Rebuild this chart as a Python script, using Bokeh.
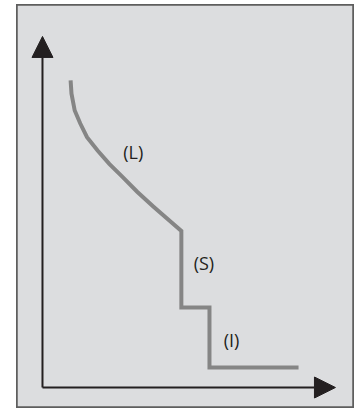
from bokeh.plotting import figure
from bokeh.layouts import row, column
from bokeh.models import Range1d, Arrow, NormalHead, Spacer
from bokeh.core.properties import value
from bokeh.embed import file_html
from bokeh.resources import INLINE

# schematic trip curve (data units: axis origin = 0, arrow tips = 100)
curve_x = [9.6, 9.9, 11.0, 12.9, 15.2, 18.8, 22.8, 27.3, 32.4, 37.9, 43.1, 47.4, 47.4, 57.0, 57.0, 87.4]
curve_y = [87.5, 83.7, 78.9, 75.2, 71.3, 67.5, 63.7, 60.0, 55.7, 51.5, 47.7, 44.6, 22.8, 22.8, 5.7, 5.7]

label_text = ["(L)", "(S)", "(I)"]
label_x = [31.0, 55.1, 64.5]
label_y = [67.0, 35.4, 13.5]

axis_len = 100

W, H = 338, 404
p = figure(width=W, height=H, output_backend="svg", toolbar_location=None,
           x_axis_location=None, y_axis_location=None,
           min_border=0,
           x_range=Range1d(-8.87, 106.5), y_range=Range1d(-5.98, 109.1))
p.grid.visible = False
p.background_fill_color = "#dcdddf"
p.border_fill_color = "white"
p.outline_line_color = "#5e5e5e"
p.outline_line_width = 2.5

axis_col = "#231f20"
p.add_layout(Arrow(end=NormalHead(size=21, fill_color=axis_col, line_color=axis_col),
                   x_start=0, y_start=0, x_end=0, y_end=axis_len,
                   line_color=axis_col, line_width=2))
p.add_layout(Arrow(end=NormalHead(size=21, fill_color=axis_col, line_color=axis_col),
                   x_start=0, y_start=0, x_end=axis_len, y_end=0,
                   line_color=axis_col, line_width=2))

p.line(curve_x, curve_y, line_color="#858585", line_width=4, line_join="miter")

p.text(label_x, label_y, text=label_text, text_font=value("Open Sans"),
       text_font_size="18px", text_color=axis_col, text_align="center",
       text_baseline="middle")

layout = column(Spacer(width=10, height=4), row(Spacer(width=16, height=H), p))
open("out.html", "w").write(file_html(layout, INLINE))
